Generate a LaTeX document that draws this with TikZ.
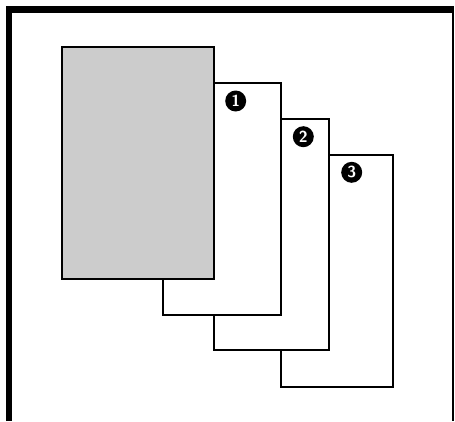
\documentclass[tikz,border=0pt]{standalone}
\usetikzlibrary{positioning}
\definecolor{PageGray}{HTML}{CCCCCC}

\begin{document}
\begin{tikzpicture}[x=1pt, y=-1pt,
  sheet/.style={draw=black, line width=1.8pt, fill=white, inner sep=0pt},
  badge/.style={circle, fill=black, minimum size=21pt, inner sep=0pt,
                font=\sffamily\bfseries\fontsize{16}{16}\selectfont\color{white}}]
  \useasboundingbox (0,0) rectangle (455,421);
  % frame
  \draw[line width=6.5pt] (9,421) -- (9,9.5) -- (453.5,9.5);
  \draw[line width=1.5pt] (452.8,9.5) -- (452.8,421);
  % stack of sheets, back to front
  \node[sheet, minimum width=112pt, minimum height=232pt] (p3) at (337,271) {};
  \node[sheet, minimum width=115pt, minimum height=231pt] (p2) at (271.5,234.5) {};
  \node[sheet, minimum width=118pt, minimum height=232pt] (p1) at (221.7,199) {};
  \node[sheet, fill=PageGray, minimum width=151.7pt, minimum height=232pt] (orig) at (138.2,162.7) {};
  % numbers
  \node[badge] (b1) at (235.7,101) {1};
  \node[badge] (b2) at (303.3,136.7) {2};
  \node[badge] (b3) at (351.7,172.3) {3};
\end{tikzpicture}
\end{document}
